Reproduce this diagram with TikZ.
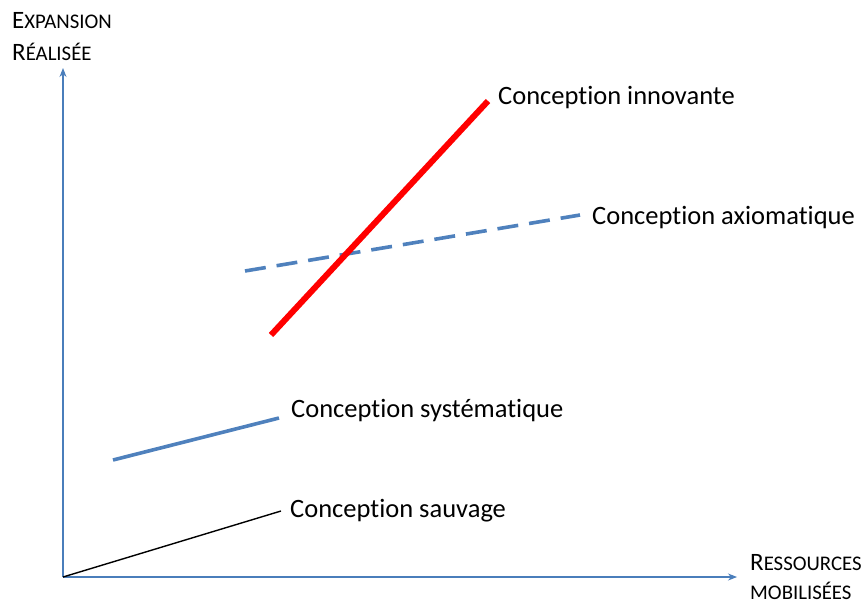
\documentclass[tikz,border=0pt]{standalone}
\usepackage{fontspec}
\setmainfont{Carlito}[Ligatures=NoCommon]
\usetikzlibrary{arrows.meta, positioning}

\definecolor{axisBlue}{HTML}{4A7EBB}
\definecolor{lineBlue}{HTML}{4F81BD}
\newcommand{\capA}[1]{{\fontsize{25}{30}\selectfont #1}}
\newcommand{\capB}[1]{{\fontsize{20.8}{30}\selectfont #1}}

\tikzset{
  axisLine/.style = {draw=axisBlue, line width=1.1pt, -{Stealth[length=9pt, width=7pt]}},
  curveLabel/.style = {anchor=west, inner sep=0pt, font=\fontsize{26.5}{30}\selectfont},
  axisLabel/.style = {anchor=base west, inner sep=0pt}
}

\begin{document}
\begin{tikzpicture}[x=1pt, y=-1pt]
  \useasboundingbox (0,0) rectangle (864,603);

  % axes
  \coordinate (origin) at (63,577);
  \coordinate (yTop) at (63,68);
  \coordinate (xEnd) at (737,577);
  \draw[axisLine] (origin) -- (yTop);
  \draw[axisLine] (origin) -- (xEnd);

  \node[axisLabel] (expLabel) at (12,28) {\capA{E}\capB{XPANSION}};
  \node[axisLabel] (realLabel) at (12,60) {\capA{R}\capB{ÉALISÉE}};
  \node[axisLabel] (resLabel) at (750,570) {\capA{R}\capB{ESSOURCES}};
  \node[axisLabel] (mobLabel) at (750,599) {\capB{MOBILISÉES}};

  % conception sauvage
  \coordinate (wildEnd) at (281,511);
  \draw[black, line width=1.4pt] (origin) -- (wildEnd);
  \node[curveLabel] (wild) at (290,511) {Conception sauvage};

  % conception systematique
  \coordinate (sysStart) at (113,460);
  \coordinate (sysEnd) at (279,418);
  \draw[lineBlue, line width=3.6pt] (sysStart) -- (sysEnd);
  \node[curveLabel] (sys) at (291,411) {Conception systématique};

  % conception axiomatique
  \coordinate (axStart) at (245,271);
  \coordinate (axEnd) at (580,215);
  \draw[lineBlue, line width=3.6pt, dash pattern=on 21pt off 11pt] (axStart) -- (axEnd);
  \node[curveLabel] (ax) at (592,218) {Conception axiomatique};

  % conception innovante
  \coordinate (innStart) at (271,335);
  \coordinate (innEnd) at (488,101);
  \draw[red, line width=6pt] (innStart) -- (innEnd);
  \node[curveLabel] (inn) at (498,98) {Conception innovante};
\end{tikzpicture}
\end{document}
